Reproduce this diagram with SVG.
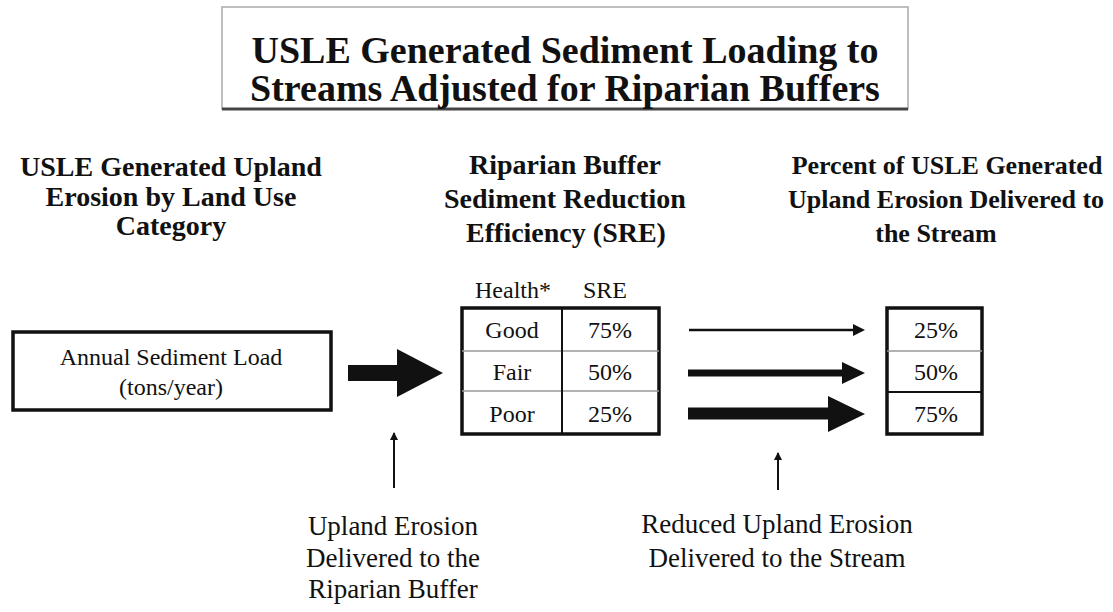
<svg xmlns="http://www.w3.org/2000/svg" width="1113" height="612" viewBox="0 0 1113 612">
<style>
text{font-family:"Liberation Serif","Times New Roman",serif;fill:#111;text-anchor:middle}
.title{font-size:38px;font-weight:bold}
.head{font-size:28px;font-weight:bold}
.headr{font-size:26px;font-weight:bold}
.body{font-size:24px}
.note{font-size:27px}
.box{fill:#fff;stroke:#111;stroke-width:3.5}
.thin{stroke:#999;stroke-width:1.5}
.pointer{stroke:#111;stroke-width:2;fill:none}
</style>
<defs>
<marker id="upTip" markerWidth="8" markerHeight="10" refX="7" refY="5" orient="auto" markerUnits="userSpaceOnUse">
<path d="M0,1 L8,5 L0,9 Z" fill="#111"/>
</marker>
</defs>
<rect width="1113" height="612" fill="#fff"/>

<g id="title">
<rect x="222" y="7" width="686" height="102" fill="#fff" stroke="#aaa" stroke-width="1.5"/>
<line x1="222" y1="109" x2="908" y2="109" stroke="#444" stroke-width="3"/>
<text class="title" x="565" y="63">USLE Generated Sediment Loading to</text>
<text class="title" x="565" y="101">Streams Adjusted for Riparian Buffers</text>
</g>

<g id="header-left">
<text class="head" x="171" y="176">USLE Generated Upland</text>
<text class="head" x="171" y="206">Erosion by Land Use</text>
<text class="head" x="171" y="235">Category</text>
</g>
<g id="header-middle">
<text class="head" x="565" y="174">Riparian Buffer</text>
<text class="head" x="565" y="208">Sediment Reduction</text>
<text class="head" x="566" y="242">Efficiency (SRE)</text>
</g>
<g id="header-right">
<text class="headr" x="947" y="174">Percent of USLE Generated</text>
<text class="headr" x="946" y="208">Upland Erosion Delivered to</text>
<text class="headr" x="936" y="242">the Stream</text>
</g>

<g id="load-box">
<rect class="box" x="13" y="332" width="318" height="78"/>
<text class="body" x="171" y="365">Annual Sediment Load</text>
<text class="body" x="171" y="395">(tons/year)</text>
</g>

<g id="sre-table">
<text class="body" x="513" y="298">Health*</text>
<text class="body" x="605" y="298">SRE</text>
<rect class="box" x="462" y="308" width="197" height="126"/>
<line class="thin" x1="462" y1="351" x2="659" y2="351"/>
<line class="thin" x1="462" y1="391" x2="659" y2="391"/>
<line x1="562" y1="308" x2="562" y2="434" stroke="#111" stroke-width="2"/>
<text class="body" x="512" y="338">Good</text>
<text class="body" x="610" y="338">75%</text>
<text class="body" x="512" y="380">Fair</text>
<text class="body" x="610" y="380">50%</text>
<text class="body" x="512" y="422">Poor</text>
<text class="body" x="610" y="422">25%</text>
</g>

<g id="percent-box">
<rect class="box" x="887" y="308" width="95" height="126"/>
<line class="thin" x1="887" y1="351" x2="982" y2="351"/>
<line x1="887" y1="392" x2="982" y2="392" stroke="#111" stroke-width="2"/>
<text class="body" x="936" y="338">25%</text>
<text class="body" x="936" y="380">50%</text>
<text class="body" x="936" y="422">75%</text>
</g>

<g id="note-left">
<text class="note" x="393" y="535">Upland Erosion</text>
<text class="note" x="393" y="567">Delivered to the</text>
<text class="note" x="393" y="598">Riparian Buffer</text>
</g>
<g id="note-right">
<text class="note" x="777" y="533">Reduced Upland Erosion</text>
<text class="note" x="777" y="567">Delivered to the Stream</text>
</g>

<g id="connectors">
<path d="M348,365 L397,365 L397,349 L443,373 L397,397 L397,381 L348,381 Z" fill="#111"/>
<line x1="689" y1="330" x2="857" y2="330" stroke="#111" stroke-width="2.5"/>
<path d="M853,324 L865,330 L853,336 Z" fill="#111"/>
<path d="M688,369.5 L842,369.5 L842,362 L865,373 L842,384 L842,376.5 L688,376.5 Z" fill="#111"/>
<path d="M688,407.5 L828,407.5 L828,396 L865,414 L828,432 L828,419.5 L688,419.5 Z" fill="#111"/>
<line class="pointer" x1="394" y1="488" x2="394" y2="433" marker-end="url(#upTip)"/>
<line class="pointer" x1="778" y1="490" x2="778" y2="453" marker-end="url(#upTip)"/>
</g>
</svg>
